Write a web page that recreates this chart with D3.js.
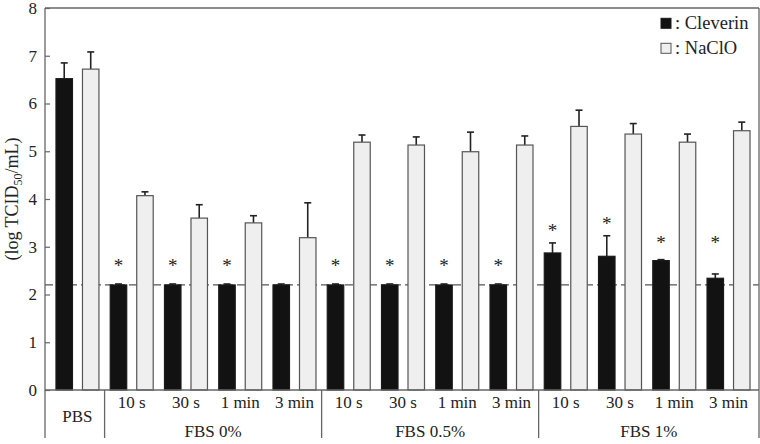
<!DOCTYPE html>
<html>
<head>
<meta charset="utf-8">
<script src="https://cdn.jsdelivr.net/npm/d3@7"></script>
<style>
  html, body { margin: 0; padding: 0; background: #fff; }
  svg { display: block; }
  text { font-family: "Liberation Serif", "Times New Roman", "DejaVu Serif", serif; fill: #222; }
</style>
</head>
<body>
<svg id="chart" width="760" height="444"></svg>
<script>
// ---- data ----
const sections = ["PBS", "FBS 0%", "FBS 0.5%", "FBS 1%"];
const timeLabels = ["10 s", "30 s", "1 min", "3 min"];
const seriesNames = ["Cleverin", "NaClO"];
const cleverin    = [6.52, 2.20, 2.20, 2.20, 2.20, 2.20, 2.20, 2.20, 2.20, 2.87, 2.80, 2.71, 2.34];
const cleverinErr = [0.33, 0.02, 0.02, 0.02, 0.02, 0.02, 0.02, 0.02, 0.02, 0.21, 0.43, 0.02, 0.09];
const naclo       = [6.72, 4.07, 3.60, 3.50, 3.19, 5.19, 5.13, 4.99, 5.13, 5.52, 5.36, 5.19, 5.43];
const nacloErr    = [0.36, 0.08, 0.28, 0.15, 0.73, 0.15, 0.17, 0.41, 0.19, 0.34, 0.22, 0.17, 0.18];
// asterisk marks (significance) and their heights, in data units
const starHeight  = [null, 2.68, 2.68, 2.68, null, 2.68, 2.68, 2.68, 2.68, 3.42, 3.56, 3.17, 3.17];
const detectionLimit = 2.2;
const yTicks = [0, 1, 2, 3, 4, 5, 6, 7, 8];

(function () {
// ---- build groups ----
const groups = [{id: "PBS", section: 0, label: null}];
for (let s = 1; s < sections.length; s++) {
  timeLabels.forEach(t => groups.push({id: sections[s] + "|" + t, section: s, label: t}));
}
const rows = groups.map((g, i) => ({
  ...g,
  values: [
    {series: "Cleverin", v: cleverin[i], e: cleverinErr[i]},
    {series: "NaClO", v: naclo[i], e: nacloErr[i]}
  ],
  star: starHeight[i]
}));

const svg = d3.select("#chart");
const pL = 45, pR = 759, pT = 8, pB = 390, labelBottom = 438;

const x = d3.scaleBand().domain(groups.map(g => g.id)).range([46, 760])
  .paddingInner(0).paddingOuter(0.08);
const xs = d3.scaleBand().domain(seriesNames).range([0, x.bandwidth()])
  .paddingInner(0.34).paddingOuter(0.194);
const y = d3.scaleLinear().domain([0, 8]).range([pB, pT]);
const color = {Cleverin: "#121212", NaClO: "#efefef"};
const stroke = {Cleverin: "#1a1a1a", NaClO: "#555"};

// dashed detection limit line (drawn under bars)
svg.append("line")
  .attr("x1", pL).attr("x2", pR)
  .attr("y1", y(detectionLimit)).attr("y2", y(detectionLimit))
  .attr("stroke", "#555").attr("stroke-width", 1.2)
  .attr("stroke-dasharray", "8,4");

// bars
const g = svg.selectAll("g.grp").data(rows).join("g")
  .attr("class", "grp")
  .attr("transform", d => `translate(${x(d.id)},0)`);

g.selectAll("line.err").data(d => d.values).join("line")
  .attr("class", "err")
  .attr("x1", d => xs(d.series) + xs.bandwidth() / 2)
  .attr("x2", d => xs(d.series) + xs.bandwidth() / 2)
  .attr("y1", d => y(d.v)).attr("y2", d => y(d.v + d.e))
  .attr("stroke", "#222").attr("stroke-width", 1.6);
g.selectAll("line.cap").data(d => d.values).join("line")
  .attr("class", "cap")
  .attr("x1", d => xs(d.series) + xs.bandwidth() / 2 - 3.5)
  .attr("x2", d => xs(d.series) + xs.bandwidth() / 2 + 3.5)
  .attr("y1", d => y(d.v + d.e)).attr("y2", d => y(d.v + d.e))
  .attr("stroke", "#222").attr("stroke-width", 1.6);

g.selectAll("rect").data(d => d.values).join("rect")
  .attr("x", d => xs(d.series) + 0.5)
  .attr("width", xs.bandwidth() - 1)
  .attr("y", d => y(d.v))
  .attr("height", d => y(0) - y(d.v))
  .attr("fill", d => color[d.series])
  .attr("stroke", d => stroke[d.series]).attr("stroke-width", 1.2);

// asterisks
g.filter(d => d.star != null).append("text")
  .attr("x", xs("Cleverin") + xs.bandwidth() / 2)
  .attr("y", d => y(d.star) + 10)
  .attr("text-anchor", "middle")
  .attr("font-size", 19).attr("fill", "#333")
  .text("*");

// axes frame
const axisColor = "#666";
svg.append("line").attr("x1", pL).attr("x2", pL).attr("y1", pT).attr("y2", labelBottom)
  .attr("stroke", axisColor).attr("stroke-width", 1.3);
svg.append("line").attr("x1", pR).attr("x2", pR).attr("y1", pT).attr("y2", labelBottom)
  .attr("stroke", axisColor).attr("stroke-width", 1.3);
svg.append("line").attr("x1", pL).attr("x2", pR).attr("y1", pT).attr("y2", pT)
  .attr("stroke", axisColor).attr("stroke-width", 1.3);
svg.append("line").attr("x1", pL).attr("x2", pR).attr("y1", pB).attr("y2", pB)
  .attr("stroke", axisColor).attr("stroke-width", 1.3);

// y axis ticks (inward) and labels
const yAxis = svg.append("g").attr("transform", `translate(${pL},0)`)
  .call(d3.axisRight(y).tickValues(yTicks).tickSize(5).tickFormat(""));
yAxis.select(".domain").remove();
yAxis.selectAll("line").attr("stroke", axisColor).attr("stroke-width", 1.2);
svg.selectAll("text.ytick").data(yTicks).join("text")
  .attr("class", "ytick")
  .attr("x", 37).attr("y", d => y(d))
  .attr("dy", "0.34em")
  .attr("text-anchor", "end")
  .attr("font-size", 17)
  .text(d => d);

// y axis title
const yt = svg.append("text")
  .attr("transform", `translate(18,${(pT + pB) / 2}) rotate(-90)`)
  .attr("text-anchor", "middle")
  .attr("font-size", 18);
yt.append("tspan").text("(log TCID");
yt.append("tspan").attr("font-size", 12).attr("dy", 4).text("50");
yt.append("tspan").attr("dy", -4).text("/mL)");

// category separators
const boundaries = [1, 5, 9].map(i => x(groups[i].id));
svg.selectAll("line.sep").data(boundaries).join("line")
  .attr("class", "sep")
  .attr("x1", d => d).attr("x2", d => d)
  .attr("y1", pB).attr("y2", labelBottom)
  .attr("stroke", axisColor).attr("stroke-width", 1.3);

// time labels
svg.selectAll("text.time").data(rows.filter(d => d.label)).join("text")
  .attr("class", "time")
  .attr("x", d => x(d.id) + x.bandwidth() / 2)
  .attr("y", 408)
  .attr("text-anchor", "middle")
  .attr("font-size", 17)
  .text(d => d.label);

// section labels
const secCenters = sections.map((s, si) => {
  const ids = groups.filter(gg => gg.section === si).map(gg => gg.id);
  const x0 = si === 0 ? pL : x(ids[0]);
  const x1 = si === sections.length - 1 ? pR : x(ids[ids.length - 1]) + x.bandwidth();
  return {s, si, cx: si === 0 ? x(ids[0]) + x.bandwidth() / 2 : (x0 + x1) / 2};
});
svg.selectAll("text.sec").data(secCenters).join("text")
  .attr("class", "sec")
  .attr("x", d => d.cx)
  .attr("y", d => d.si === 0 ? 422 : 437)
  .attr("text-anchor", "middle")
  .attr("font-size", 17)
  .text(d => d.s);

// legend
const legend = svg.append("g");
seriesNames.forEach((name, i) => {
  const ly = 23.3 + i * 25;
  legend.append("rect")
    .attr("x", 661).attr("y", ly - 5).attr("width", 10).attr("height", 10)
    .attr("fill", color[name]).attr("stroke", stroke[name]).attr("stroke-width", 1);
  legend.append("text")
    .attr("x", 675).attr("y", ly + 5.5)
    .attr("font-size", 18.5)
    .text(": " + name);
});
})();
</script>
</body>
</html>
